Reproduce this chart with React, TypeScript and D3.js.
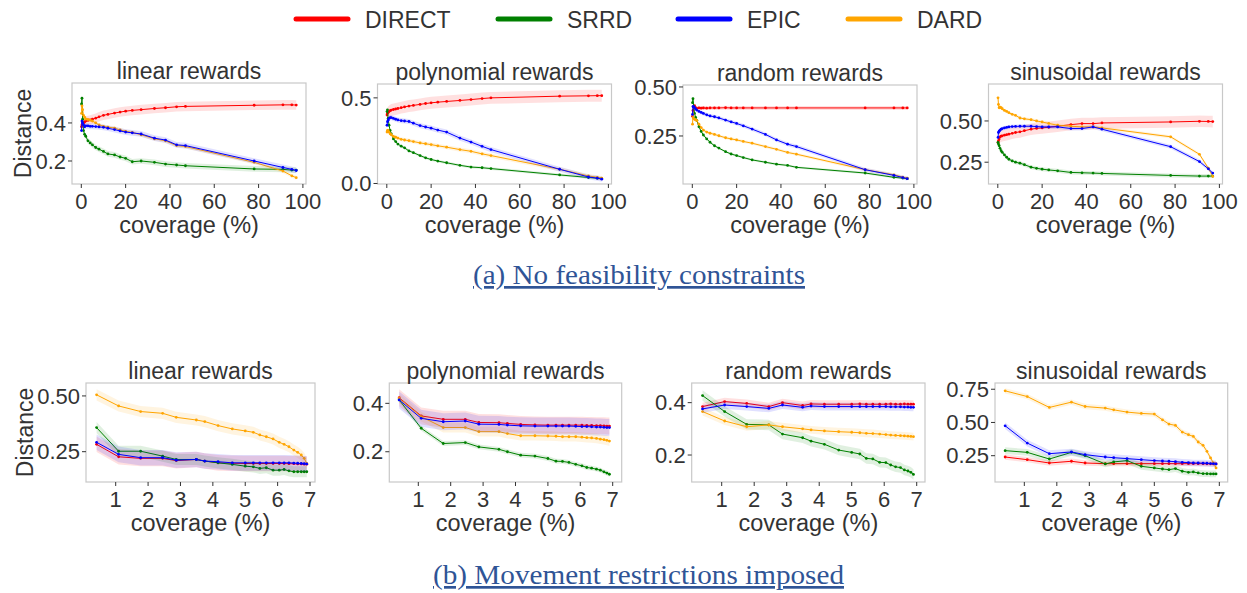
import * as d3 from "d3";

const methods = ["DIRECT", "SRRD", "EPIC", "DARD"];
const colors = ["#ff0000", "#008000", "#0000ff", "#ffa500"];

// coverage grids (%)
const coverageTop = [0.1, 0.3, 0.6, 1, 1.5, 2, 3, 4, 5, 6.5, 8, 10, 12, 15, 17.5, 20, 23, 27, 33, 38, 43, 47, 78, 91, 95, 97];
const coverageBottom = [0.41, 1.09, 1.77, 2.45, 2.87, 3.49, 3.75, 4.16, 4.6, 5.0, 5.25, 5.45, 5.65, 5.86, 6.05, 6.2, 6.35, 6.5, 6.62, 6.73, 6.82, 6.9];

// (a) linear
const linA_direct = [0.38, 0.39, 0.40, 0.40, 0.405, 0.41, 0.413, 0.416, 0.42, 0.425, 0.432, 0.44, 0.445, 0.452, 0.457, 0.462, 0.466, 0.47, 0.476, 0.48, 0.485, 0.487, 0.493, 0.495, 0.495, 0.494];
const linA_srrd = [0.50, 0.53, 0.42, 0.36, 0.34, 0.33, 0.306, 0.295, 0.285, 0.271, 0.262, 0.25, 0.237, 0.232, 0.221, 0.214, 0.196, 0.2, 0.193, 0.184, 0.179, 0.175, 0.158, 0.156, 0.152, 0.152];
const linA_epic = [0.36, 0.41, 0.40, 0.39, 0.38, 0.385, 0.385, 0.382, 0.382, 0.381, 0.379, 0.377, 0.372, 0.365, 0.358, 0.352, 0.348, 0.342, 0.32, 0.31, 0.285, 0.281, 0.2, 0.166, 0.156, 0.15];
const linA_dard = [0.45, 0.49, 0.47, 0.44, 0.43, 0.42, 0.418, 0.415, 0.41, 0.40, 0.39, 0.382, 0.378, 0.373, 0.363, 0.356, 0.35, 0.338, 0.317, 0.306, 0.281, 0.276, 0.193, 0.147, 0.122, 0.112];
// (a) polynomial
const polA_direct = [0.40, 0.41, 0.415, 0.42, 0.425, 0.429, 0.432, 0.435, 0.438, 0.443, 0.447, 0.452, 0.456, 0.462, 0.467, 0.471, 0.475, 0.479, 0.485, 0.49, 0.496, 0.5, 0.51, 0.512, 0.513, 0.513];
const polA_srrd = [0.42, 0.43, 0.38, 0.34, 0.31, 0.29, 0.26, 0.245, 0.23, 0.218, 0.208, 0.19, 0.18, 0.163, 0.15, 0.14, 0.131, 0.121, 0.106, 0.096, 0.092, 0.087, 0.05, 0.035, 0.031, 0.029];
const polA_epic = [0.34, 0.36, 0.37, 0.38, 0.385, 0.385, 0.38, 0.375, 0.371, 0.367, 0.365, 0.362, 0.352, 0.338, 0.33, 0.323, 0.312, 0.3, 0.265, 0.242, 0.217, 0.198, 0.083, 0.038, 0.031, 0.025];
const polA_dard = [0.30, 0.31, 0.31, 0.30, 0.29, 0.285, 0.275, 0.27, 0.265, 0.258, 0.254, 0.25, 0.245, 0.237, 0.232, 0.227, 0.22, 0.212, 0.198, 0.188, 0.173, 0.163, 0.083, 0.044, 0.036, 0.031];
// (a) random
const rndA_direct = [0.35, 0.38, 0.40, 0.405, 0.395, 0.39, 0.393, 0.392, 0.393, 0.392, 0.393, 0.393, 0.393, 0.394, 0.393, 0.393, 0.393, 0.393, 0.393, 0.393, 0.393, 0.393, 0.393, 0.393, 0.393, 0.393];
const rndA_srrd = [0.42, 0.44, 0.40, 0.365, 0.345, 0.33, 0.297, 0.273, 0.255, 0.235, 0.218, 0.2, 0.188, 0.17, 0.158, 0.15, 0.14, 0.128, 0.116, 0.106, 0.1, 0.09, 0.061, 0.039, 0.035, 0.032];
const rndA_epic = [0.36, 0.40, 0.40, 0.395, 0.388, 0.382, 0.375, 0.37, 0.365, 0.358, 0.352, 0.348, 0.342, 0.331, 0.322, 0.314, 0.302, 0.285, 0.258, 0.23, 0.208, 0.196, 0.078, 0.049, 0.038, 0.032];
const rndA_dard = [0.31, 0.36, 0.34, 0.335, 0.332, 0.33, 0.31, 0.293, 0.28, 0.27, 0.264, 0.258, 0.251, 0.241, 0.235, 0.23, 0.222, 0.213, 0.196, 0.182, 0.166, 0.157, 0.078, 0.052, 0.04, 0.035];
// (a) sinusoidal
const sinA_direct = [0.37, 0.38, 0.39, 0.404, 0.408, 0.41, 0.414, 0.417, 0.42, 0.425, 0.43, 0.434, 0.441, 0.45, 0.455, 0.458, 0.462, 0.468, 0.478, 0.484, 0.484, 0.488, 0.494, 0.498, 0.497, 0.496];
const sinA_srrd = [0.37, 0.36, 0.35, 0.334, 0.32, 0.31, 0.294, 0.28, 0.268, 0.258, 0.25, 0.244, 0.235, 0.22, 0.213, 0.208, 0.203, 0.198, 0.188, 0.186, 0.184, 0.182, 0.17, 0.166, 0.166, 0.166];
const sinA_epic = [0.40, 0.43, 0.438, 0.445, 0.45, 0.454, 0.458, 0.461, 0.464, 0.466, 0.467, 0.468, 0.468, 0.468, 0.466, 0.464, 0.464, 0.464, 0.454, 0.454, 0.464, 0.45, 0.344, 0.254, 0.21, 0.184];
const sinA_dard = [0.64, 0.60, 0.58, 0.584, 0.58, 0.574, 0.564, 0.558, 0.55, 0.54, 0.534, 0.518, 0.513, 0.508, 0.5, 0.494, 0.485, 0.474, 0.468, 0.464, 0.464, 0.458, 0.404, 0.298, 0.214, 0.164];

// (b) linear
const linB_direct = [0.283, 0.227, 0.22, 0.22, 0.21, 0.215, 0.208, 0.2, 0.198, 0.197, 0.197, 0.197, 0.197, 0.197, 0.197, 0.197, 0.196, 0.196, 0.195, 0.195, 0.194, 0.194];
const linB_srrd = [0.358, 0.252, 0.252, 0.23, 0.215, 0.215, 0.208, 0.2, 0.193, 0.185, 0.182, 0.175, 0.178, 0.167, 0.167, 0.17, 0.164, 0.16, 0.16, 0.16, 0.16, 0.16];
const linB_epic = [0.292, 0.238, 0.223, 0.223, 0.212, 0.215, 0.208, 0.205, 0.2, 0.2, 0.2, 0.2, 0.2, 0.2, 0.2, 0.2, 0.2, 0.199, 0.198, 0.197, 0.196, 0.195];
const linB_dard = [0.505, 0.455, 0.43, 0.422, 0.404, 0.392, 0.385, 0.367, 0.352, 0.343, 0.337, 0.325, 0.317, 0.307, 0.292, 0.283, 0.272, 0.257, 0.247, 0.235, 0.22, 0.197];
// (b) polynomial
const polB_direct = [0.423, 0.348, 0.334, 0.334, 0.321, 0.32, 0.317, 0.313, 0.311, 0.31, 0.31, 0.31, 0.31, 0.31, 0.31, 0.309, 0.309, 0.308, 0.308, 0.307, 0.306, 0.306];
const polB_srrd = [0.414, 0.297, 0.234, 0.238, 0.22, 0.21, 0.2, 0.186, 0.182, 0.172, 0.161, 0.16, 0.156, 0.148, 0.142, 0.135, 0.132, 0.128, 0.124, 0.117, 0.112, 0.107];
const polB_epic = [0.414, 0.338, 0.324, 0.327, 0.314, 0.313, 0.31, 0.307, 0.306, 0.306, 0.306, 0.306, 0.306, 0.305, 0.304, 0.304, 0.303, 0.302, 0.302, 0.301, 0.3, 0.3];
const polB_dard = [0.42, 0.345, 0.3, 0.3, 0.283, 0.283, 0.275, 0.266, 0.266, 0.265, 0.264, 0.262, 0.262, 0.262, 0.26, 0.258, 0.257, 0.255, 0.252, 0.25, 0.247, 0.244];
// (b) random
const rndB_direct = [0.385, 0.404, 0.397, 0.385, 0.4, 0.389, 0.395, 0.394, 0.394, 0.394, 0.395, 0.394, 0.394, 0.394, 0.394, 0.395, 0.394, 0.394, 0.395, 0.394, 0.394, 0.394];
const rndB_srrd = [0.427, 0.366, 0.317, 0.315, 0.28, 0.266, 0.253, 0.241, 0.219, 0.21, 0.204, 0.187, 0.185, 0.172, 0.171, 0.162, 0.155, 0.152, 0.143, 0.139, 0.134, 0.126];
const rndB_epic = [0.376, 0.391, 0.385, 0.378, 0.391, 0.382, 0.387, 0.385, 0.385, 0.385, 0.385, 0.385, 0.385, 0.385, 0.385, 0.384, 0.384, 0.384, 0.383, 0.383, 0.382, 0.382];
const rndB_dard = [0.366, 0.33, 0.308, 0.315, 0.308, 0.3, 0.296, 0.292, 0.289, 0.287, 0.285, 0.283, 0.282, 0.28, 0.278, 0.276, 0.275, 0.274, 0.273, 0.272, 0.271, 0.27];
// (b) sinusoidal
const sinB_direct = [0.24, 0.22, 0.195, 0.208, 0.195, 0.19, 0.19, 0.19, 0.19, 0.19, 0.19, 0.19, 0.19, 0.19, 0.19, 0.19, 0.19, 0.19, 0.189, 0.189, 0.188, 0.188];
const sinB_srrd = [0.288, 0.275, 0.225, 0.275, 0.25, 0.188, 0.203, 0.213, 0.17, 0.158, 0.15, 0.145, 0.153, 0.133, 0.125, 0.128, 0.12, 0.115, 0.114, 0.113, 0.113, 0.113];
const sinB_epic = [0.475, 0.345, 0.265, 0.278, 0.258, 0.24, 0.235, 0.228, 0.22, 0.213, 0.21, 0.208, 0.205, 0.2, 0.198, 0.195, 0.195, 0.194, 0.193, 0.191, 0.19, 0.188];
const sinB_dard = [0.738, 0.695, 0.613, 0.653, 0.62, 0.608, 0.595, 0.578, 0.568, 0.563, 0.52, 0.488, 0.478, 0.428, 0.408, 0.395, 0.353, 0.328, 0.283, 0.233, 0.195, 0.158];

// half-width of the shaded band, per method [DIRECT, SRRD, EPIC, DARD]
const bandLinA = [0.025, 0.015, 0.015, 0.01];
const bandPolA = [0.035, 0.008, 0.015, 0.012];
const bandRndA = [0.01, 0.006, 0.01, 0.008];
const bandSinA = [0.035, 0.012, 0.012, 0.01];
const bandLinB = [0.035, 0.025, 0.035, 0.025];
const bandPolB = [0.035, 0.01, 0.035, 0.02];
const bandRndB = [0.015, 0.02, 0.015, 0.015];
const bandSinB = [0.02, 0.025, 0.025, 0.02];

const xTicksTop = [0, 20, 40, 60, 80, 100];
const xTicksBottom = [1, 2, 3, 4, 5, 6, 7];

const font = "'Liberation Sans', Arial, Helvetica, sans-serif";
const serif = "'Liberation Serif', 'Times New Roman', serif";
const ink = "#333";

const panels = [
  { title: "linear rewards", xs: coverageTop, ys: [linA_direct, linA_srrd, linA_epic, linA_dard], band: bandLinA,
    box: [72, 83, 306, 184], xd: [-4.2, 101.4], yd: [0.079, 0.61], xt: xTicksTop, yt: [0.2, 0.4], fmt: ".1f", ylab: 31 },
  { title: "polynomial rewards", xs: coverageTop, ys: [polA_direct, polA_srrd, polA_epic, polA_dard], band: bandPolA,
    box: [377.5, 84, 611.5, 184], xd: [-4.2, 101.4], yd: [-0.003, 0.581], xt: xTicksTop, yt: [0, 0.5], fmt: ".1f" },
  { title: "random rewards", xs: coverageTop, ys: [rndA_direct, rndA_srrd, rndA_epic, rndA_dard], band: bandRndA,
    box: [683, 85, 917, 184], xd: [-4.2, 101.4], yd: [0.005, 0.51], xt: xTicksTop, yt: [0.25, 0.5], fmt: ".2f" },
  { title: "sinusoidal rewards", xs: coverageTop, ys: [sinA_direct, sinA_srrd, sinA_epic, sinA_dard], band: bandSinA,
    box: [988.5, 84, 1222.5, 184], xd: [-4.2, 101.4], yd: [0.118, 0.724], xt: xTicksTop, yt: [0.25, 0.5], fmt: ".2f" },
  { title: "linear rewards", xs: coverageBottom, ys: [linB_direct, linB_srrd, linB_epic, linB_dard], band: bandLinB,
    box: [86, 383, 315, 482], xd: [0.083, 7.154], yd: [0.114, 0.558], xt: xTicksBottom, yt: [0.25, 0.5], fmt: ".2f", ylab: 33 },
  { title: "polynomial rewards", xs: coverageBottom, ys: [polB_direct, polB_srrd, polB_epic, polB_dard], band: bandPolB,
    box: [389.3, 383, 621.7, 482], xd: [0.105, 7.278], yd: [0.075, 0.484], xt: xTicksBottom, yt: [0.2, 0.4], fmt: ".1f" },
  { title: "random rewards", xs: coverageBottom, ys: [rndB_direct, rndB_srrd, rndB_epic, rndB_dard], band: bandRndB,
    box: [691.7, 383, 925, 482], xd: [0.077, 7.255], yd: [0.097, 0.475], xt: xTicksBottom, yt: [0.2, 0.4], fmt: ".1f" },
  { title: "sinusoidal rewards", xs: coverageBottom, ys: [sinB_direct, sinB_srrd, sinB_epic, sinB_dard], band: bandSinB,
    box: [995, 383, 1227.7, 482], xd: [0.098, 7.258], yd: [0.052, 0.797], xt: xTicksBottom, yt: [0.25, 0.5, 0.75], fmt: ".2f" },
];

const drawOrder = [0, 1, 3, 2];

function Panel({ p, idx }: { p: any; idx: number }) {
  const [x0, y0, x1, y1] = p.box;
  const x = d3.scaleLinear().domain(p.xd).range([x0, x1]);
  const y = d3.scaleLinear().domain(p.yd).range([y1, y0]);
  const fmt = d3.format(p.fmt);
  const clipId = `clip-${idx}`;
  const cx = (x0 + x1) / 2;

  return (
    <g>
      <defs>
        <clipPath id={clipId}>
          <rect x={x0} y={y0} width={x1 - x0} height={y1 - y0} />
        </clipPath>
      </defs>
      <g clipPath={`url(#${clipId})`}>
        {drawOrder.map((k) => {
          const vals: number[] = p.ys[k];
          const hw = p.band[k];
          const pts = p.xs.map((xv: number, i: number) => [xv, vals[i]]);
          const area = d3
            .area<number[]>()
            .x((d) => x(d[0]))
            .y0((d) => y(d[1] - hw))
            .y1((d) => y(d[1] + hw));
          const line = d3
            .line<number[]>()
            .x((d) => x(d[0]))
            .y((d) => y(d[1]));
          return (
            <g key={k}>
              <path d={area(pts) || ""} fill={colors[k]} fillOpacity={0.12} stroke="none" />
              <path d={line(pts) || ""} fill="none" stroke={colors[k]} strokeWidth={1} />
              {pts.map((d: number[], i: number) => (
                <circle key={i} cx={x(d[0])} cy={y(d[1])} r={1.4} fill={colors[k]} />
              ))}
            </g>
          );
        })}
      </g>
      <rect x={x0} y={y0} width={x1 - x0} height={y1 - y0} fill="none" stroke="#c8c8c8" strokeWidth={1.2} />
      {p.xt.map((t: number) => (
        <g key={`x${t}`}>
          <line x1={x(t)} x2={x(t)} y1={y1} y2={y1 + 4} stroke={ink} strokeWidth={1} />
          <text x={x(t)} y={y1 + 25} textAnchor="middle" fontSize={22} fill={ink} fontFamily={font}>
            {t}
          </text>
        </g>
      ))}
      {p.yt.map((t: number) => (
        <g key={`y${t}`}>
          <line x1={x0 - 4} x2={x0} y1={y(t)} y2={y(t)} stroke={ink} strokeWidth={1} />
          <text x={x0 - 6} y={y(t)} dy="0.35em" textAnchor="end" fontSize={22} fill={ink} fontFamily={font}>
            {fmt(t)}
          </text>
        </g>
      ))}
      <text x={cx} y={y0 - 4} textAnchor="middle" fontSize={23} fill={ink} fontFamily={font}>
        {p.title}
      </text>
      <text x={cx} y={y1 + 49} textAnchor="middle" fontSize={23.5} fill={ink} fontFamily={font}>
        coverage (%)
      </text>
      {p.ylab && (
        <text
          transform={`translate(${p.ylab},${(y0 + y1) / 2}) rotate(-90)`}
          textAnchor="middle"
          fontSize={23}
          fill={ink}
          fontFamily={font}
        >
          Distance
        </text>
      )}
    </g>
  );
}

const legendX = [296, 498, 678, 848];

export default function App() {
  return (
    <svg width={1247} height={593} style={{ position: "absolute", left: 0, top: 0, background: "#fff" }}>
      <rect width={1247} height={593} fill="#fff" />
      {methods.map((m, i) => (
        <g key={m}>
          <line x1={legendX[i]} x2={legendX[i] + 52} y1={19} y2={19} stroke={colors[i]} strokeWidth={5} strokeLinecap="round" />
          <text x={legendX[i] + 69} y={28} fontSize={23} fill={ink} fontFamily={font}>
            {m}
          </text>
        </g>
      ))}
      {panels.map((p, i) => (
        <Panel key={i} p={p} idx={i} />
      ))}
      <text x={473} y={284} fontSize={27} fill="#2f5496" fontFamily={serif}
        textLength={332} lengthAdjust="spacingAndGlyphs" textDecoration="underline">
        (a) No feasibility constraints
      </text>
      <text x={433} y={584} fontSize={27} fill="#2f5496" fontFamily={serif}
        textLength={411} lengthAdjust="spacingAndGlyphs" textDecoration="underline">
        (b) Movement restrictions imposed
      </text>
    </svg>
  );
}
